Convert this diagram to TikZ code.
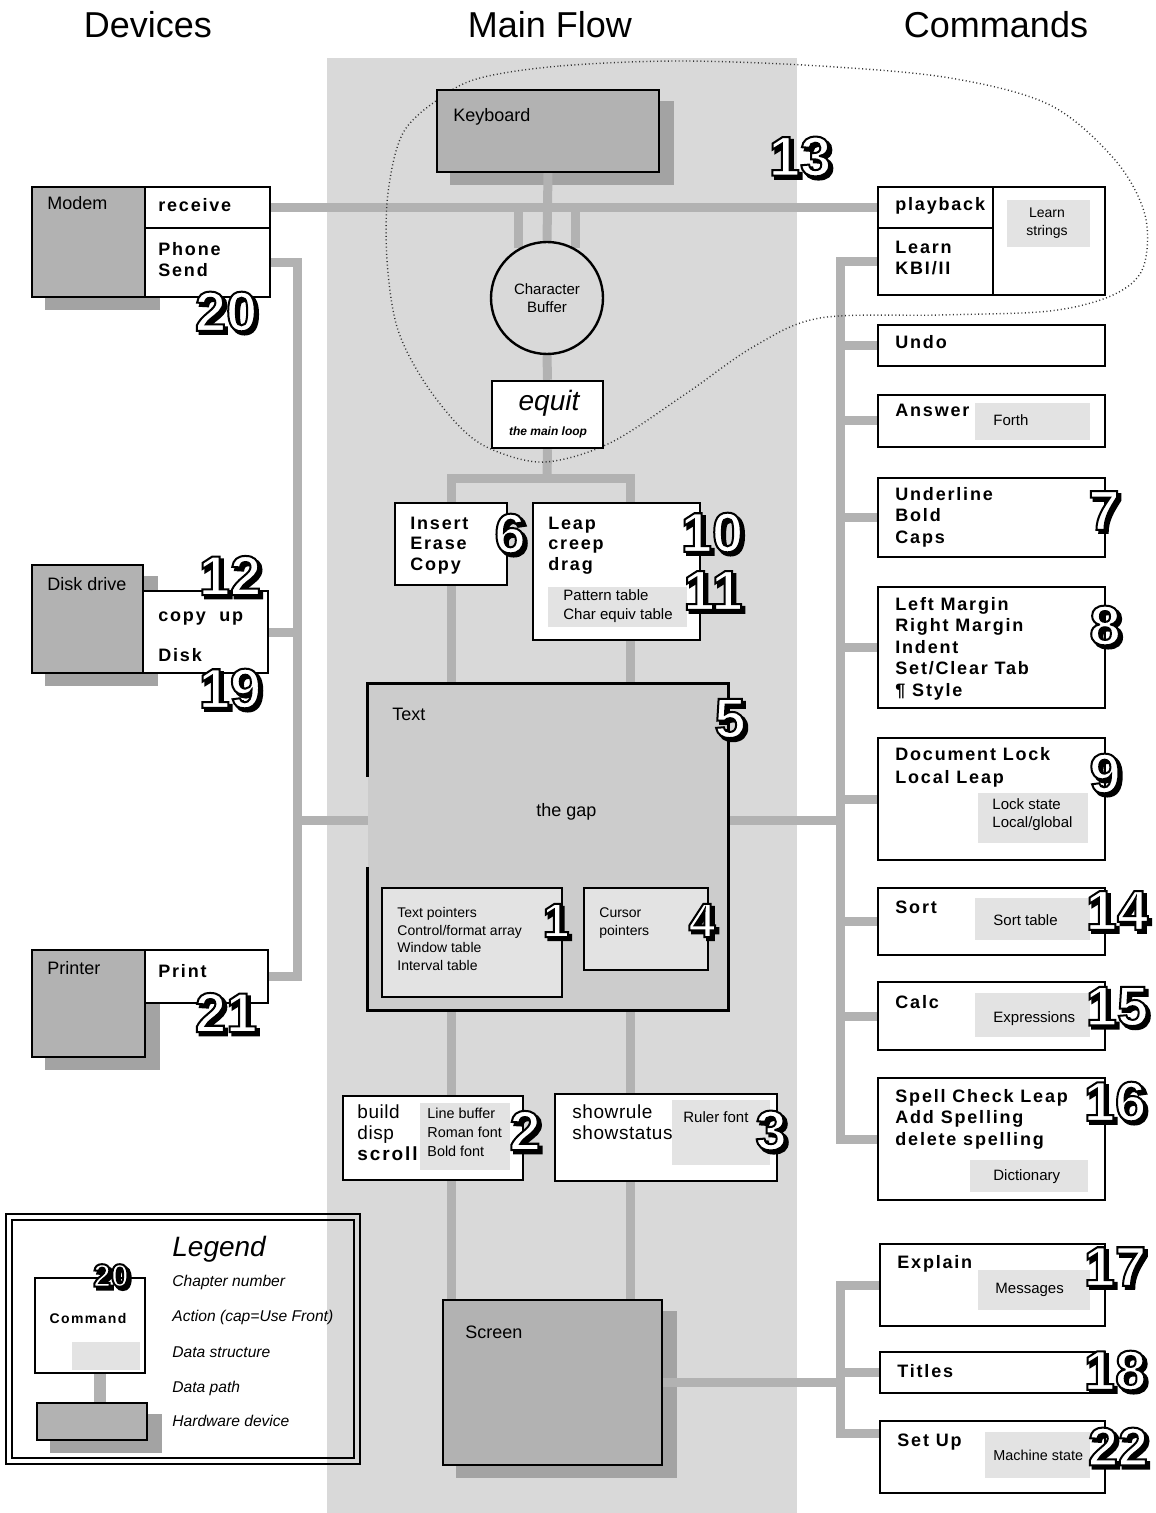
\documentclass[tikz,border=0pt]{standalone}
\usepackage{fontspec}
\setmainfont{Liberation Sans}
\newfontfamily\cmdfont[LetterSpace=10]{Liberation Sans}
\newfontfamily\regfont[LetterSpace=3]{Liberation Sans}
\usetikzlibrary{fit,calc}
\pgfdeclarelayer{bg}
\pgfdeclarelayer{paths}
\pgfsetlayers{bg,paths,main}
\definecolor{bandgray}{gray}{0.85}
\definecolor{hwgray}{gray}{0.70}
\definecolor{shgray}{gray}{0.64}
\definecolor{dsgray}{gray}{0.89}
\definecolor{pathgray}{gray}{0.70}
\definecolor{textgray}{gray}{0.80}
% outlined chapter number with drop shadow (text render mode 2 = fill + stroke)
\newcommand\chn[1]{%
\rlap{\kern1.5pt\raisebox{-1.5pt}{\special{pdf:literal direct 0 G 2 Tr 1.2 w}#1\special{pdf:literal direct 0 Tr}}}%
{\color{white}\special{pdf:literal direct 0 G 2 Tr 1 w}#1\special{pdf:literal direct 0 Tr}}}
\tikzset{
  cmdbox/.style={draw, line width=1.2pt, fill=white, inner sep=0pt, rectangle},
  hwbox/.style={draw, line width=1.2pt, fill=hwgray, inner sep=0pt, rectangle},
  dsbox/.style={draw, line width=1.2pt, fill=dsgray, inner sep=0pt, rectangle},
  dpath/.style={line width=4.5pt, draw=pathgray},
  lbl/.style={inner sep=0pt, anchor=base west, font=\fontsize{9}{11}\selectfont},
  ctxt/.style={inner sep=0pt, anchor=base west, align=left, font=\cmdfont\bfseries\fontsize{9}{10.75}\selectfont},
  rtxt/.style={inner sep=0pt, anchor=base west, align=left, font=\regfont\fontsize{9.5}{10.5}\selectfont},
  dtxt/.style={inner sep=0pt, anchor=base west, align=left, font=\fontsize{7.5}{9.5}\selectfont},
  numlbl/.style={inner sep=0pt, font=\bfseries\fontsize{28}{28}\selectfont},
  ttl/.style={inner sep=0pt, font=\fontsize{18}{20}\selectfont},
  legtxt/.style={inner sep=0pt, anchor=base west, font=\itshape\fontsize{7.8}{9}\selectfont},
}
\begin{document}
\begin{tikzpicture}[x=0.5pt,y=-0.5pt]
\useasboundingbox (0,0) rectangle (1155,1513);
\begin{pgfonlayer}{bg}
\fill[white] (0,0) rectangle (1155,1513);
\fill[bandgray] (327,58) rectangle (797,1513);
\end{pgfonlayer}
% titles
\node[ttl] (tdev) at (148,25) {Devices};
\node[ttl] (tmain) at (550,25) {Main Flow};
\node[ttl] (tcmds) at (996,25) {Commands};
% devices column
\node[hwbox, fit={(32,187)(145,297)}] (modem) {};
\node[cmdbox, fit={(145,187)(270,228)}] (recv) {};
\node[cmdbox, fit={(145,228)(270,297)}] (phone) {};
\node[hwbox, fit={(32,565)(143,673)}] (diskd) {};
\node[cmdbox, fit={(143,591)(268,673)}] (disk) {};
\node[hwbox, fit={(32,950)(145,1057)}] (printer) {};
\node[cmdbox, fit={(145,950)(268,1003)}] (print) {};
% main flow
\node[hwbox, fit={(437,90)(659,172)}] (kb) {};
\node[circle, draw, line width=1.2pt, fill=bandgray, minimum size=56pt, inner sep=0pt, align=center, font=\fontsize{7.5}{9}\selectfont] (cb) at (547,298) {Character\\Buffer};
\node[cmdbox, fit={(492,381)(603,448)}] (eq) {};
\node[cmdbox, fit={(395,503)(507,585)}] (ins) {};
\node[cmdbox, fit={(533,503)(700,640)}] (leap) {};
\fill[dsgray] (548,587) rectangle (687,627);
\node[fill=textgray, inner sep=0pt, fit={(368,684)(728,1010)}] (txt) {};
\draw[line width=1.2pt] ($(txt.north west)+(0,93)$) -- (txt.north west) -- (txt.north east) -- (txt.south east) -- (txt.south west) -- ($(txt.south west)+(0,-143)$);
\node[dsbox, fit={(382,888)(562,997)}] (tp) {};
\node[dsbox, fit={(584,888)(708,970)}] (cur) {};
\node[cmdbox, fit={(343,1096)(523,1180)}] (bld) {};
\fill[dsgray] (420,1103) rectangle (510,1170);
\node[cmdbox, fit={(555,1094)(777,1181)}] (shr) {};
\fill[dsgray] (672,1100) rectangle (770,1165);
\node[hwbox, fit={(443,1300)(662,1465)}] (scr) {};
% commands column
\node[cmdbox, fit={(878,187)(993,228)}] (play) {};
\node[cmdbox, fit={(878,228)(993,295)}] (learn) {};
\node[cmdbox, fit={(993,187)(1105,295)}] (lstr) {};
\fill[dsgray] (1007,200) rectangle (1090,247);
\node[cmdbox, fit={(878,325)(1105,366)}] (undo) {};
\node[cmdbox, fit={(878,395)(1105,447)}] (answer) {};
\fill[dsgray] (975,403) rectangle (1090,440);
\node[cmdbox, fit={(878,478)(1105,557)}] (uline) {};
\node[cmdbox, fit={(878,587)(1105,708)}] (margin) {};
\node[cmdbox, fit={(878,738)(1105,860)}] (dlock) {};
\fill[dsgray] (978,793) rectangle (1088,843);
\node[cmdbox, fit={(878,888)(1105,955)}] (sort) {};
\fill[dsgray] (975,898) rectangle (1090,940);
\node[cmdbox, fit={(878,982)(1105,1050)}] (calc) {};
\fill[dsgray] (975,993) rectangle (1090,1037);
\node[cmdbox, fit={(878,1078)(1105,1200)}] (spell) {};
\fill[dsgray] (970,1160) rectangle (1088,1192);
\node[cmdbox, fit={(880,1244)(1105,1326)}] (expl) {};
\fill[dsgray] (978,1270) rectangle (1090,1310);
\node[cmdbox, fit={(880,1352)(1105,1393)}] (titles) {};
\node[cmdbox, fit={(880,1421)(1105,1493)}] (setup) {};
\fill[dsgray] (985,1432) rectangle (1090,1478);
% legend
\draw[line width=0.6pt] (6,1214) rectangle (360,1464);
\draw[line width=1.4pt] (12,1220) rectangle (354,1458);
\node[cmdbox, fit={(35,1278)(145,1373)}] (lcmd) {};
\fill[dsgray] (72,1342) rectangle (140,1370);
\node[hwbox, fit={(37,1403)(147,1440)}] (lhw) {};
% coordinates for connectors
\coordinate (eqj) at (547,478);
\coordinate (lx) at ([xshift=7pt]leap.south);
\coordinate (lxn) at ([xshift=7pt]leap.north);
\coordinate (LB) at (297,0);
\coordinate (RB) at (840,0);
\coordinate (gapL) at (368,820);
\coordinate (suw) at ([yshift=12pt]setup.west);
\coordinate (lcs) at ([xshift=5pt]lcmd.south);
\begin{pgfonlayer}{paths}
\foreach \n in {modem,diskd,printer,kb,scr,lhw}
  \fill[shgray] ($(\n.north west)+(14,12)$) rectangle ($(\n.south east)+(14,12)$);
\draw[dpath] (recv.east) -- (play.west);
\draw[dpath] (cb.120) -- (cb.120 |- recv.east);
\draw[dpath] (cb.60) -- (cb.60 |- recv.east);
\draw[dpath] (kb.south) -- (cb.north);
\draw[dpath] (cb.south) -- (eq.north);
\draw[dpath] (eq.south) -- (eqj);
\draw[dpath] (ins.north) |- (eqj) -| (lxn);
\draw[dpath] (ins.south) -- (ins.south |- txt.north);
\draw[dpath] (lx) -- (lx |- txt.north);
\draw[dpath] (ins.south |- txt.south) -- (ins.south |- bld.north);
\draw[dpath] (lx |- txt.south) -- (lx |- shr.north);
\draw[dpath] (ins.south |- bld.south) -- (ins.south |- scr.north);
\draw[dpath] (lx |- shr.south) -- (lx |- scr.north);
\draw[dpath] (phone.east) -- (phone.east -| LB) -- (print.east -| LB) -- (print.east);
\draw[dpath] (disk.east) -- (disk.east -| LB);
\draw[dpath] (gapL -| LB) -- (gapL);
\draw[dpath] (learn.west) -- (learn.west -| RB) -- (spell.west -| RB) -- (spell.west);
\foreach \n in {undo,answer,uline,margin,dlock,sort,calc}
  \draw[dpath] (\n.west) -- (\n.west -| RB);
\draw[dpath] (txt.east |- gapL) -- (gapL -| RB);
\draw[dpath] (expl.west) -- (expl.west -| RB) -- (suw -| RB) -- (suw);
\draw[dpath] (titles.west) -- (titles.west -| RB);
\draw[dpath] (scr.east) -- (scr.east -| RB);
\draw[dpath, line width=6pt] (lcs) -- (lcs |- lhw.north);
\draw[line width=0.7pt, dash pattern=on 0.5pt off 1.3pt, black!80] plot[smooth cycle, tension=0.55] coordinates {(480,78) (560,66) (680,61) (820,66) (950,78) (1050,105) (1115,160) (1145,215) (1143,268) (1113,295) (1050,311) (940,315) (820,318) (753,347) (687,393) (610,443) (545,462) (493,450) (460,427) (423,380) (397,327) (387,260) (388,193) (403,133) (440,98)};
\end{pgfonlayer}
% texts: devices (multi-line nodes are placed by the baseline of their last line)
\node[lbl] (tmodem) at (47,210) {Modem};
\node[ctxt] (trecv) at (158,212) {receive};
\node[ctxt] (tphone) at (158,277) {Phone\\Send};
\node[lbl] (tdiskd) at (47,590) {Disk drive};
\node[ctxt] (tcopy) at (158,621) {copy\ \ up};
\node[ctxt] (tdisk) at (158,661) {Disk};
\node[lbl] (tprinter) at (47,974) {Printer};
\node[ctxt] (tprint) at (158,977) {Print};
% texts: main flow
\node[lbl] (tkb) at (453,122) {Keyboard};
\node[inner sep=0pt, anchor=base, font=\itshape\fontsize{14}{14}\selectfont] (teq) at (549,411) {equit};
\node[inner sep=0pt, anchor=base, font=\bfseries\itshape\fontsize{6}{6}\selectfont] (tloop) at (548,436) {the main loop};
\node[ctxt, font=\cmdfont\bfseries\fontsize{9}{10.25}\selectfont] (tins) at (410,570) {Insert\\Erase\\Copy};
\node[ctxt, font=\cmdfont\bfseries\fontsize{9}{10.25}\selectfont] (tleap) at (548,570) {Leap\\creep\\drag};
\node[dtxt] (tpat) at (563,619) {Pattern table\\Char equiv table};
\node[lbl] (ttext) at (392,720) {Text};
\node[lbl] (tgap) at (536,816) {the gap};
\node[dtxt, font=\fontsize{7}{8.75}\selectfont] (ttp) at (397,970) {Text pointers\\Control/format array\\Window table\\Interval table};
\node[dtxt, font=\fontsize{7}{8.75}\selectfont] (tcur) at (599,935) {Cursor\\pointers};
\node[rtxt] (tbld) at (357,1160) {build\\disp\\{\cmdfont\bfseries scroll}};
\node[dtxt, font=\fontsize{7.2}{9.5}\selectfont] (tlb) at (427,1156) {Line buffer\\Roman font\\Bold font};
\node[rtxt] (tshr) at (572,1139) {showrule\\showstatus};
\node[dtxt] (truler) at (683,1122) {Ruler font};
\node[lbl] (tscr) at (465,1338) {Screen};
% texts: commands
\node[ctxt] (tplay) at (895,211) {playback};
\node[ctxt] (tlearn) at (895,275) {Learn\\KBI/II};
\node[inner sep=0pt, align=center, font=\fontsize{7}{9}\selectfont] (tlstr) at (1047,223) {Learn\\strings};
\node[ctxt] (tundo) at (895,349) {Undo};
\node[ctxt] (tans) at (895,417) {Answer};
\node[dtxt] (tforth) at (993,426) {Forth};
\node[ctxt] (tul) at (895,543) {Underline\\Bold\\Caps};
\node[ctxt] (tmar) at (895,696) {Left Margin\\Right Margin\\Indent\\Set/Clear Tab\\¶ Style};
\node[ctxt, font=\cmdfont\bfseries\fontsize{9}{11.5}\selectfont] (tdl) at (895,783) {Document Lock\\Local Leap};
\node[dtxt, font=\fontsize{7.5}{9}\selectfont] (tls) at (992,827) {Lock state\\Local/global};
\node[ctxt] (tsort) at (895,913) {Sort};
\node[dtxt] (tst) at (993,925) {Sort table};
\node[ctxt] (tcalc) at (895,1008) {Calc};
\node[dtxt] (texp) at (993,1022) {Expressions};
\node[ctxt] (tspell) at (895,1145) {Spell Check Leap\\Add Spelling\\delete spelling};
\node[dtxt] (tdict) at (993,1180) {Dictionary};
\node[ctxt] (texpl) at (897,1268) {Explain};
\node[dtxt] (tmsg) at (995,1293) {Messages};
\node[ctxt] (ttitles) at (897,1377) {Titles};
\node[ctxt] (tsetup) at (897,1446) {Set Up};
\node[dtxt, font=\fontsize{7.2}{9}\selectfont] (tmach) at (993,1460) {Machine state};
% legend texts
\node[inner sep=0pt, anchor=base west, font=\itshape\fontsize{14}{14}\selectfont] (tleg) at (172,1256) {Legend};
\node[legtxt] (tl1) at (172,1286) {Chapter number};
\node[legtxt] (tl2) at (172,1321) {Action (cap=Use Front)};
\node[legtxt] (tl3) at (172,1357) {Data structure};
\node[legtxt] (tl4) at (172,1392) {Data path};
\node[legtxt] (tl5) at (172,1426) {Hardware device};
\node[inner sep=0pt, font=\cmdfont\bfseries\fontsize{7}{7}\selectfont] (tcmdl) at (88,1318) {Command};
% chapter numbers
\node[numlbl] (n13) at (800,158) {\chn{13}};
\node[numlbl] (n20) at (226,313) {\chn{20}};
\node[numlbl] (n12) at (230,577) {\chn{12}};
\node[numlbl] (n19) at (230,690) {\chn{19}};
\node[numlbl] (n21) at (226,1014) {\chn{21}};
\node[numlbl] (n6) at (510,535) {\chn{6}};
\node[numlbl] (n10) at (712,534) {\chn{10}};
\node[numlbl] (n11) at (713,592) {\chn{11}};
\node[numlbl] (n5) at (730,720) {\chn{5}};
\node[numlbl, font=\bfseries\fontsize{24}{24}\selectfont] (n1) at (556,922) {\chn{1}};
\node[numlbl, font=\bfseries\fontsize{24}{24}\selectfont] (n4) at (702,922) {\chn{4}};
\node[numlbl] (n2) at (525,1132) {\chn{2}};
\node[numlbl] (n3) at (771,1132) {\chn{3}};
\node[numlbl] (n7) at (1104,512) {\chn{7}};
\node[numlbl] (n8) at (1105,627) {\chn{8}};
\node[numlbl] (n9) at (1105,775) {\chn{9}};
\node[numlbl] (n14) at (1117,912) {\chn{14}};
\node[numlbl] (n15) at (1117,1008) {\chn{15}};
\node[numlbl] (n16) at (1115,1103) {\chn{16}};
\node[numlbl] (n17) at (1115,1268) {\chn{17}};
\node[numlbl] (n18) at (1115,1372) {\chn{18}};
\node[numlbl, font=\bfseries\fontsize{27}{27}\selectfont] (n22) at (1118,1448) {\chn{22}};
\node[numlbl, font=\bfseries\fontsize{16}{16}\selectfont] (nl20) at (111,1277) {\chn{20}};
\end{tikzpicture}
\end{document}
